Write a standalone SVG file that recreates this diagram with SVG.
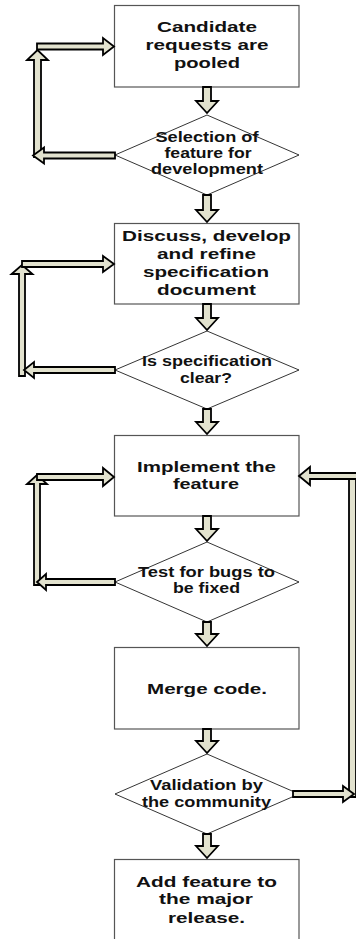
<svg xmlns="http://www.w3.org/2000/svg" width="356" height="939" viewBox="0 0 356 939">
<style>
.box{fill:#fff;stroke:#555;stroke-width:1.2}
.dia{fill:#fff;stroke:#000;stroke-width:0.8}
.t{font-family:"Liberation Sans",Arial,sans-serif;font-weight:bold;font-size:15px;fill:#111;text-anchor:middle}
.ar{fill:#E2E2CE;stroke:#000;stroke-width:1.8;stroke-linejoin:miter}
</style>
<rect width="356" height="939" fill="#fff"/>
<g id="n1">
<rect class="box" x="114.5" y="5.5" width="184.5" height="81.5"/>
<text class="t" x="207" y="32" textLength="100" lengthAdjust="spacingAndGlyphs">Candidate</text>
<text class="t" x="207" y="50" textLength="123" lengthAdjust="spacingAndGlyphs">requests are</text>
<text class="t" x="207" y="68" textLength="66" lengthAdjust="spacingAndGlyphs">pooled</text>
</g>
<g id="n2">
<polygon class="dia" points="207,115 299,155 207,195 115,155"/>
<text class="t" x="207" y="142" textLength="103" lengthAdjust="spacingAndGlyphs">Selection of</text>
<text class="t" x="208" y="158" textLength="87" lengthAdjust="spacingAndGlyphs">feature for</text>
<text class="t" x="207" y="174" textLength="112" lengthAdjust="spacingAndGlyphs">development</text>
</g>
<g id="n3">
<rect class="box" x="114.5" y="223.5" width="184.5" height="80.5"/>
<text class="t" x="206.5" y="241" textLength="169" lengthAdjust="spacingAndGlyphs">Discuss, develop</text>
<text class="t" x="206.5" y="259" textLength="99" lengthAdjust="spacingAndGlyphs">and refine</text>
<text class="t" x="206" y="277" textLength="126" lengthAdjust="spacingAndGlyphs">specification</text>
<text class="t" x="206.5" y="295" textLength="99" lengthAdjust="spacingAndGlyphs">document</text>
</g>
<g id="n4">
<polygon class="dia" points="207,331 299,370 207,409 115,370"/>
<text class="t" x="207" y="366" textLength="130" lengthAdjust="spacingAndGlyphs">Is specification</text>
<text class="t" x="206" y="382.5" textLength="52" lengthAdjust="spacingAndGlyphs">clear?</text>
</g>
<g id="n5">
<rect class="box" x="114.5" y="435.5" width="184.5" height="80.5"/>
<text class="t" x="206.5" y="472" textLength="139" lengthAdjust="spacingAndGlyphs">Implement the</text>
<text class="t" x="206" y="489" textLength="66" lengthAdjust="spacingAndGlyphs">feature</text>
</g>
<g id="n6">
<polygon class="dia" points="207,542 299,582 207,622 115,582"/>
<text class="t" x="206.5" y="577" textLength="137" lengthAdjust="spacingAndGlyphs">Test for bugs to</text>
<text class="t" x="206.5" y="593" textLength="67" lengthAdjust="spacingAndGlyphs">be fixed</text>
</g>
<g id="n7">
<rect class="box" x="114.5" y="647.5" width="184.5" height="81.5"/>
<text class="t" x="207" y="694" textLength="120" lengthAdjust="spacingAndGlyphs">Merge code.</text>
</g>
<g id="n8">
<polygon class="dia" points="207,754 299,794 207,834 115,794"/>
<text class="t" x="206.5" y="790" textLength="113" lengthAdjust="spacingAndGlyphs">Validation by</text>
<text class="t" x="206.5" y="807" textLength="129" lengthAdjust="spacingAndGlyphs">the community</text>
</g>
<g id="n9">
<rect class="box" x="114.5" y="859.5" width="184.5" height="82"/>
<text class="t" x="206.5" y="887" textLength="141" lengthAdjust="spacingAndGlyphs">Add feature to</text>
<text class="t" x="206" y="904" textLength="94" lengthAdjust="spacingAndGlyphs">the major</text>
<text class="t" x="206.5" y="923" textLength="77" lengthAdjust="spacingAndGlyphs">release.</text>
</g>
<g id="connectors">
<path class="ar" d="M203,87 H211 V101 H218 L207,113 L196,101 H203 Z"/>
<path class="ar" d="M203,195 H211 V210 H218 L207,222 L196,210 H203 Z"/>
<path class="ar" d="M203,304 H211 V318 H218 L207,330 L196,318 H203 Z"/>
<path class="ar" d="M203,409 H211 V422 H218 L207,434 L196,422 H203 Z"/>
<path class="ar" d="M203,516 H211 V529 H218 L207,541 L196,529 H203 Z"/>
<path class="ar" d="M203,622 H211 V634 H218 L207,646 L196,634 H203 Z"/>
<path class="ar" d="M203,729 H211 V741 H218 L207,753 L196,741 H203 Z"/>
<path class="ar" d="M203,834 H211 V846 H218 L207,858 L196,846 H203 Z"/>
<path class="ar" d="M34,157 V60 H27 L37.5,50 L48,60 H41 V157 Z"/>
<path class="ar" d="M37,43.5 H103 V38 L114,46.5 L103,55 V49.5 H37 Z"/>
<path class="ar" d="M115,152.5 H44 V147.5 L33,155.5 L44,163.5 V158.5 H115 Z"/>
<path class="ar" d="M19,376 V274 H11.5 L22,265 L32.5,274 H25 V376 Z"/>
<path class="ar" d="M22,261 H103 V256 L114,264 L103,272 V267 H22 Z"/>
<path class="ar" d="M115,367 H34 V362 L24,370 L34,378 V373 H115 Z"/>
<path class="ar" d="M34,585 V484 H27 L37,475 L47,484 H40 V585 Z"/>
<path class="ar" d="M37,474 H103 V468 L114,477 L103,486 V480 H37 Z"/>
<path class="ar" d="M115,579 H46 V574 L37,582 L46,590 V585 H115 Z"/>
<path class="ar" d="M349,479 H356 V797 H349 Z"/>
<path class="ar" d="M357,473 H310 V467 L299,476 L310,485 V479 H357 Z"/>
<path class="ar" d="M293,791 H343 V786 L354,794 L343,802 V797 H293 Z"/>
</g>
</svg>
